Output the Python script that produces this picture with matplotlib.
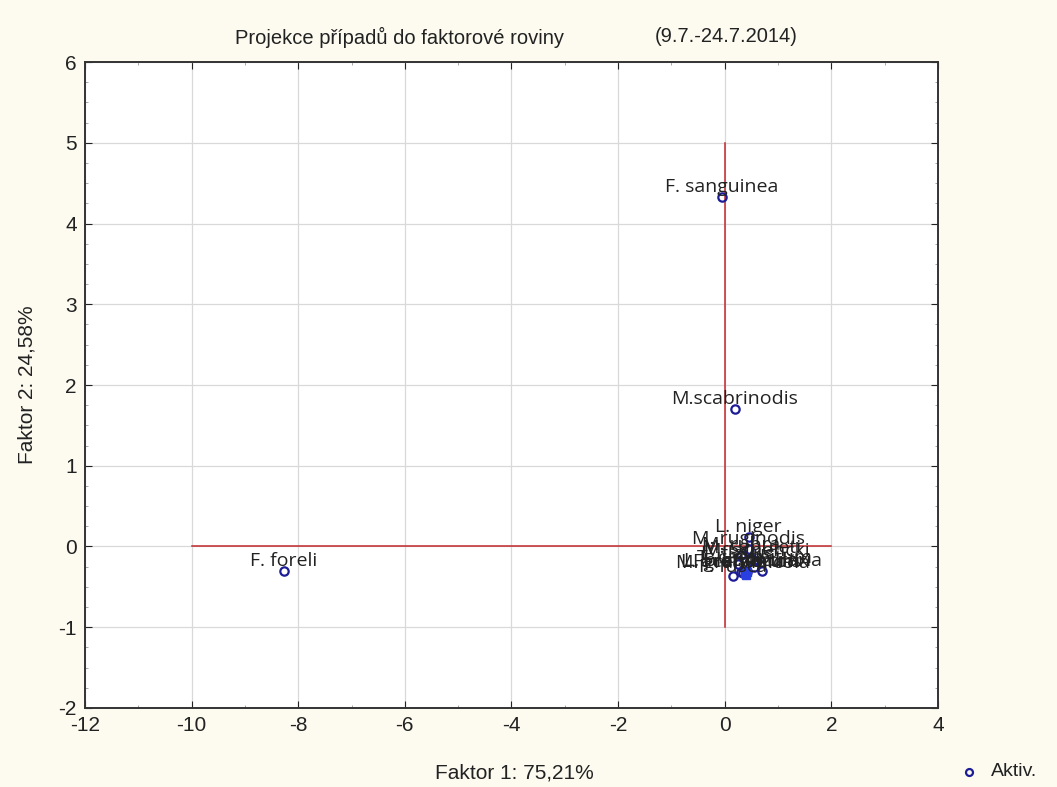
import numpy as np
import matplotlib.pyplot as plt

plt.rcParams['axes.unicode_minus'] = False

# data: projection of cases onto the factor plane
nazvy = ["F. sanguinea", "M.scabrinodis", "F. foreli", "L. niger", "M. ruginodis",
         "M. rubra", "M. sabuleti", "M. schencki", "L. flavus", "T. caespitum",
         "F. fusca", "L. platythorax", "F. cunicularia", "M. graminicola", "F. rufibarbis",
         "L. acervorum"]
faktor1 = [-0.05, 0.19, -8.27, 0.45, 0.45, 0.30, 0.50, 0.60, 0.25, 0.55,
           0.15, 0.40, 0.70, 0.35, 0.42, 0.30]
faktor2 = [4.33, 1.70, -0.30, 0.12, -0.03, -0.10, -0.14, -0.18, -0.22, -0.26,
           -0.37, -0.30, -0.30, -0.33, -0.31, -0.32]

xticks = np.arange(-12, 5, 2)
yticks = np.arange(-2, 7, 1)

fig = plt.figure(figsize=(10.57, 7.87), dpi=100, facecolor='#fdfbf0')
ax = fig.add_axes([0.0804, 0.1004, 0.807, 0.8208])
ax.set_facecolor('white')

# red axes of the factor plane
ax.plot([-10, 2], [0, 0], color='#c0282d', lw=1.1, zorder=2)
ax.plot([0, 0], [-1, 5], color='#c0282d', lw=1.1, zorder=2)

ax.plot(faktor1, faktor2, 'o', mfc='none', mec='#1c1c96', ms=6, mew=1.6, zorder=3)
# stacked points in the cluster
ax.plot([0.38, 0.42, 0.40], [-0.33, -0.31, -0.35], 's', color='#2a3fe0', ms=6, zorder=3)

for n, x, y in zip(nazvy, faktor1, faktor2):
    ax.annotate(n, (x, y), xytext=(0, 3.5), textcoords='offset points', ha='center', va='baseline',
                fontsize=14, family='Open Sans', color='#222222', zorder=4)

ax.set_xlim(-12, 4)
ax.set_ylim(-2, 6)
ax.set_xticks(xticks)
ax.set_yticks(yticks)
ax.set_xticks(np.arange(-12, 4.1, 1), minor=True)
ax.set_yticks(np.arange(-2, 6.1, 0.25), minor=True)
ax.grid(True, which='major', color='#d9d9d9', lw=0.9)
ax.tick_params(which='both', direction='in', top=True, right=True, labelsize=15, colors='#222222', pad=6)
ax.tick_params(which='major', length=5)
ax.tick_params(which='minor', length=2.5, color='#999999')
for lab in ax.get_xticklabels() + ax.get_yticklabels():
    lab.set_family('Liberation Sans')
for s in ax.spines.values():
    s.set_color('#333333')
    s.set_linewidth(1.4)

fig.text(235/1057, 1 - 37/787, "Projekce případů do faktorové roviny",
         ha='left', va='center', fontsize=14.5, family='Liberation Sans', color='#222222')
fig.text(655/1057, 1 - 37/787, "(9.7.-24.7.2014)",
         ha='left', va='center', fontsize=14.5, family='Liberation Sans', color='#222222')
fig.text(514/1057, 1 - 773/787, "Faktor 1: 75,21%", ha='center', va='center',
         fontsize=15, family='Liberation Sans', color='#222222')
fig.text(27/1057, 1 - 385/787, "Faktor 2: 24,58%", ha='center', va='center', rotation=90,
         fontsize=15, family='Liberation Sans', color='#222222')

fig.lines.append(plt.Line2D([969/1057], [1 - 772/787], marker='o', mfc='none', mec='#1c1c96',
                            ms=5, mew=1.6, transform=fig.transFigure))
fig.text(991/1057, 1 - 772/787, "Aktiv.", ha='left', va='center', fontsize=14,
         family='Liberation Sans', color='#222222')

fig.savefig('out.png', dpi=100, facecolor=fig.get_facecolor())
